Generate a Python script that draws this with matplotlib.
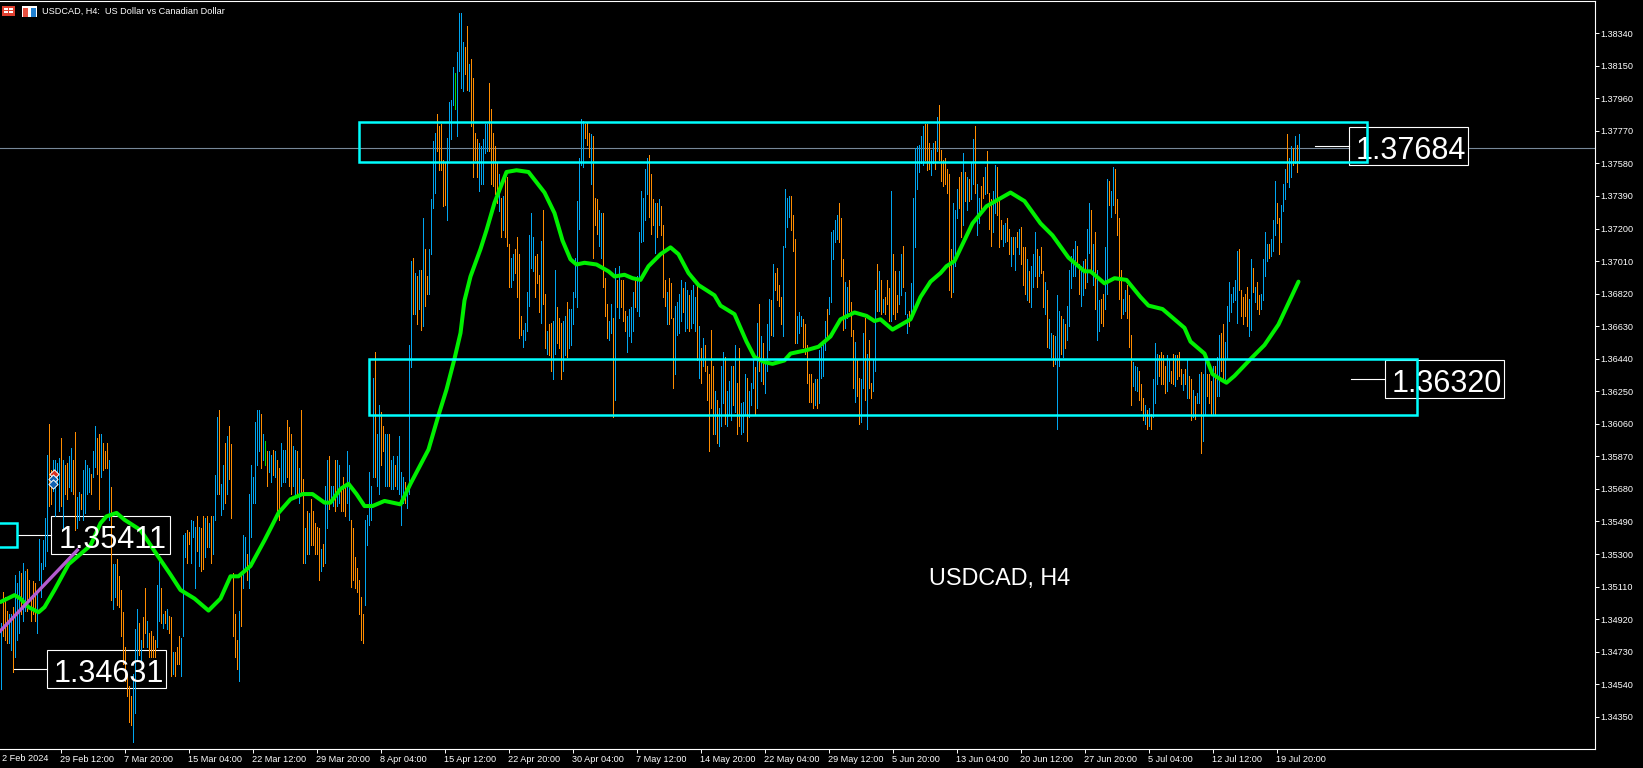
import matplotlib
matplotlib.use('Agg')
import matplotlib.pyplot as plt
from matplotlib.patches import Rectangle

# bar highs/lows in pips above 1.3000, ten bars per row
bar_highs = [
    490,508,505,497,495,495,499,518,513,520,
    519,525,520,521,515,505,514,513,509,539,
    525,538,551,588,606,579,585,585,583,586,
    598,585,582,583,587,592,585,601,563,566,
    565,579,585,582,580,577,590,605,598,600,
    600,595,590,595,585,569,524,524,527,517,
    509,496,476,460,453,447,460,486,498,490,
    480,493,510,491,484,485,482,480,512,526,
    510,495,497,498,494,493,473,473,476,482,
    481,541,542,544,543,550,549,546,552,546,
    545,552,551,552,548,552,552,576,610,614,
    571,582,595,599,605,594,519,495,480,497,
    518,541,540,530,565,582,575,607,614,614,
    612,600,596,590,590,588,591,590,585,580,
    595,591,591,608,604,600,593,591,590,580,
    614,574,545,555,554,562,555,548,546,545,
    533,536,570,585,587,570,570,585,585,582,
    570,575,570,590,582,550,545,528,522,515,
    505,495,550,553,578,570,633,648,600,617,
    613,605,600,600,600,585,587,582,587,599,
    578,575,572,570,652,701,703,694,692,696,
    696,726,708,692,708,737,771,776,787,780,
    781,760,759,773,794,795,814,811,823,846,
    846,829,826,838,816,819,808,776,772,770,
    768,772,781,781,805,790,776,768,758,752,
    738,739,750,750,711,703,705,708,715,705,
    669,661,665,683,716,729,715,704,705,693,
    713,731,682,660,664,665,666,696,674,668,
    665,666,669,677,673,673,683,703,736,761,
    784,783,781,782,776,775,774,738,737,731,
    729,729,691,676,666,676,668,697,690,698,
    690,690,672,669,673,674,683,690,692,718,
    742,738,755,761,763,752,737,735,735,737,
    733,722,690,683,691,688,668,675,677,682,
    690,685,689,684,681,684,687,680,687,663,
    650,656,652,640,635,661,640,625,620,615,
    640,648,645,625,631,640,640,652,630,650,
    618,619,635,633,625,630,643,639,665,676,
    657,653,643,664,679,678,699,694,697,687,
    680,710,743,738,739,739,728,714,669,671,
    669,667,664,652,635,635,630,632,632,649,
    651,654,666,673,680,718,719,725,728,735,
    726,702,689,686,690,677,661,654,643,633,
    632,659,668,647,655,630,643,684,699,695,
    690,679,680,690,685,742,705,695,681,695,
    705,710,683,670,672,688,738,767,768,769,
    774,780,781,781,770,766,770,771,785,792,
    766,760,761,755,752,708,735,731,743,750,
    753,764,753,750,749,758,772,780,746,738,
    745,750,756,765,741,737,742,757,756,737,
    725,722,723,726,720,715,715,715,718,720,
    721,709,709,702,695,698,705,718,708,704,
    709,695,689,684,667,659,658,657,681,672,
    669,667,664,675,696,704,708,713,710,699,
    698,701,702,720,735,731,711,718,696,678,
    679,682,709,749,748,742,756,755,737,726,
    696,679,684,687,681,658,642,640,639,637,
    629,621,617,614,615,612,632,653,647,646,
    648,646,640,646,643,637,647,646,646,648,
    638,635,638,643,634,632,626,622,624,635,
    636,635,643,635,635,631,640,640,645,658,
    659,664,654,675,689,682,686,690,707,708,
    684,680,682,686,679,702,697,686,689,681,
    682,702,718,711,711,714,725,748,735,726,
    734,746,755,775,761,768,767,774,769,775,
]
bar_lows = [
    451,482,480,478,478,474,461,470,480,484,
    495,491,497,497,503,491,495,491,484,515,
    505,521,523,532,558,559,567,552,571,555,
    558,544,565,562,569,567,565,544,545,550,
    556,550,554,565,566,565,575,581,577,556,
    575,579,580,580,550,503,498,505,500,499,
    482,466,456,447,432,430,420,437,468,471,
    468,476,484,476,470,470,470,470,476,491,
    490,487,490,486,484,459,460,459,466,466,
    459,482,528,525,536,525,540,510,532,523,
    520,521,528,534,534,525,530,550,565,565,
    553,556,560,565,574,551,482,470,463,456,
    488,510,520,515,510,540,560,560,582,590,
    580,585,582,570,578,572,576,575,555,550,
    570,572,572,575,570,565,570,565,565,560,
    565,525,525,530,530,535,535,530,530,515,
    520,523,525,545,556,560,558,555,558,560,
    555,555,552,560,550,511,515,510,508,495,
    480,478,500,535,547,550,575,575,570,565,
    582,590,570,570,570,568,568,570,568,565,
    547,560,560,557,565,639,670,670,664,673,
    661,663,675,682,682,705,732,741,765,754,
    754,733,734,725,760,772,792,790,774,812,
    802,800,810,801,800,780,750,760,750,742,
    746,746,764,765,765,746,745,740,735,730,
    715,719,715,710,686,686,690,694,680,656,
    658,651,655,660,675,697,695,680,688,671,
    665,676,650,647,646,637,632,647,653,650,
    632,637,646,645,650,652,664,680,674,720,
    757,756,773,769,762,746,703,722,717,710,
    703,686,669,656,655,659,610,620,674,668,
    674,666,660,648,657,654,660,674,672,669,
    712,713,725,740,727,717,722,706,715,722,
    716,680,675,664,664,668,627,635,658,659,
    666,671,660,662,660,662,665,660,643,633,
    630,640,637,620,590,615,600,600,595,593,
    605,618,606,605,612,608,617,613,600,605,
    600,601,612,596,610,617,627,612,615,637,
    631,629,624,637,649,658,657,684,678,675,
    664,657,709,721,727,719,707,653,653,659,
    663,651,647,630,619,619,615,617,615,618,
    633,634,649,655,670,677,702,712,714,712,
    692,661,662,668,672,657,627,619,622,606,
    607,627,620,603,627,621,625,637,672,672,
    670,671,670,676,666,666,670,667,671,676,
    681,686,670,659,663,670,670,709,743,753,
    758,757,760,754,755,751,758,755,765,760,
    748,745,746,741,684,680,683,698,726,732,
    715,722,736,731,736,737,746,741,716,723,
    730,738,740,741,720,710,718,729,728,709,
    714,710,712,713,705,698,705,696,709,705,
    699,687,682,678,677,674,686,692,686,692,
    694,674,670,651,650,645,640,641,603,640,
    647,645,650,655,663,685,692,692,698,682,
    675,681,685,689,706,695,687,673,655,660,
    665,663,673,682,734,727,734,729,716,679,
    668,670,672,668,651,617,628,626,625,620,
    614,608,606,603,605,603,610,618,629,634,
    629,629,624,625,631,630,629,628,632,634,
    629,626,629,621,621,608,610,609,618,618,
    589,596,612,622,618,612,612,612,622,622,
    637,631,632,644,666,671,677,678,665,684,
    669,664,669,663,657,661,683,677,673,670,
    673,678,692,701,703,704,707,716,723,705,
    712,730,737,747,744,750,757,758,753,758,
]
# b = up (blue), o = down (orange), g = the odd green bar
bar_kinds = ''.join([
    'booobbobbb', 'obbooooobb', 'bbbboobbbb', 'oboobboobb', 'obbbbobboo',
    'booobobboo', 'oooooobbbo', 'booboooobb', 'oboboobooo', 'bbboobbbob',
    'oobobobbbo', 'bbobooooob', 'obbobbbbbb', 'obgobboboo', 'bbbooobbob',
    'oobobooooo', 'bobbobbobb', 'ooobbooooo', 'oobbbbbobb', 'oobbobbobb',
    'bbobbbobob', 'oboobbbboo', 'ooobbbbgbb', 'bbooboooob', 'bbbbooooob',
    'obooobbooo', 'obbbbbbooo', 'booboobboo', 'obbobbbbbb', 'bbooobooob',
    'booobbobob', 'ooobbbbobb', 'bbbbooobob', 'ooobooobbb', 'bobbobbbob',
    'obooooobob', 'bbobbboboo', 'bbbobbbobo', 'bobbbobooo', 'obbbbooobb',
    'boooooobob', 'bbbobbbbbo', 'oobboooboo', 'bboboobbob', 'obooobooob',
    'bobbobbbbb', 'bbooobbobo', 'oooooobbbo', 'obobobbobb', 'oobooobboo',
    'obboobobob', 'ooobobbbob', 'oobobbobbb', 'obobbbbboo', 'bbobbobobb',
    'oobbobbooo', 'obbooobbbo', 'oobobobbbo', 'ooobbooboo', 'oboboobobb',
    'obbooobobb', 'oobbbbbbbo', 'oooobboboo', 'bbbbobbboo', 'bbbobbobob',
])

ma_bars = [0,7,10,14,19,22,27,34,40,45,50,53,58,62,70,78,85,90,97,104,110,115,119,125,132,139,145,151,156,162,165,170,174,178,182,186,192,196,200,205,
           214,219,223,227,230,232,235,240,243,247,251,253,258,264,270,272,277,281,285,288,292,298,304,307,312,316,320,324,330,335,339,344,349,357,360,367,370,
           373,377,382,386,392,395,403,409,415,420,427,433,437,440,446,455,460,465,470,473,477,486,493,499,505,512,520,526,534,542,545,552,557,563,570,
           574,581,592,595,602,606,610,613,617,626,632,639,643,649]
ma_values = [502,506,504,499,496,499,509,524,530,535,548,552,554,550,544,530,518,509,504,497,504,517,517,523,538,554,562,565,565,560,560,568,571,565,558,558,561,560,559,571,
             591,611,626,644,659,678,692,708,719,735,747,753,754,753,744,741,729,713,702,699,700,699,695,692,693,691,690,698,705,709,705,694,687,681,675,670,662,
             654,645,642,641,643,647,649,651,657,667,671,669,666,667,661,667,680,689,694,698,701,723,733,737,741,736,723,716,703,695,695,688,691,690,680,
             675,673,662,654,647,635,632,630,634,645,652,664,674,689]

trend_bars = [-1, 39]
trend_values = [484, 533]

# (first bar, last bar, low, high) in pips above 1.3000
zones = [(179, 683, 759, 782), (184, 708, 611, 644), (-10, 8, 534, 548)]

label_texts = ['1.37684', '1.36320', '1.35411', '1.34631']
label_lefts = [674, 692, 25, 23]
label_stems = [657, 675, 8, 6]

last_price = 1.37668

price_ticks = [1.38340, 1.38150, 1.37960, 1.37770, 1.37580, 1.37390, 1.37200, 1.37010, 1.36820, 1.36630, 1.36440,
               1.36250, 1.36060, 1.35870, 1.35680, 1.35490, 1.35300, 1.35110, 1.34920, 1.34730, 1.34540, 1.34350]
date_labels = ['29 Feb 12:00', '7 Mar 20:00', '15 Mar 04:00', '22 Mar 12:00', '29 Mar 20:00', '8 Apr 04:00', '15 Apr 12:00',
               '22 Apr 20:00', '30 Apr 04:00', '7 May 12:00', '14 May 20:00', '22 May 04:00', '29 May 12:00', '5 Jun 20:00',
               '13 Jun 04:00', '20 Jun 12:00', '27 Jun 20:00', '5 Jul 04:00', '12 Jul 12:00', '19 Jul 20:00']


def price(pips):
    return 1.3 + pips / 1e4


plt.rcParams['font.family'] = 'Liberation Sans'
W, H = 1643, 768
fig = plt.figure(figsize=(W / 100, H / 100), dpi=100, facecolor='black')
ax = fig.add_axes([0, 19 / H, 1594.5 / W, 748 / H], facecolor='black')
ax.set_xlim(-0.25, 797)
ax.set_ylim(1.34162, 1.38528)

ax.axhline(last_price, color='#778899', lw=0.8, zorder=1)

# quote boxes first so the bars still show on top of them
for text, left, stem in zip(label_texts, label_lefts, label_stems):
    level = float(text)
    ax.add_patch(Rectangle((left, level - 0.00111), 59.7, 0.00222, fc='black', ec='white', lw=0.8, zorder=2))
    ax.plot([stem, left], [level, level], color='white', lw=0.8, zorder=2)

colors = {'b': '#00a5f0', 'o': '#ff8c00', 'g': '#00e000'}
bar_x = list(range(len(bar_highs)))
ax.vlines(bar_x, [price(v) for v in bar_lows], [price(v) for v in bar_highs],
          colors=[colors[k] for k in bar_kinds], lw=0.72, antialiased=False, zorder=3)

ax.plot(ma_bars, [price(v) for v in ma_values], color='#00f000', lw=2.9, zorder=4, solid_capstyle='round')
ax.plot(trend_bars, [price(v) for v in trend_values], color='#b45cd0', lw=2.4, zorder=4, solid_capstyle='butt')

ax.scatter([26.5], [price(577)], s=22, marker='D', color='#d83020', edgecolors='white', linewidths=0.7, zorder=5)
ax.scatter([26, 26], [price(574), price(571)], s=22, marker='D', color='#1060b0', edgecolors='white', linewidths=0.7, zorder=5)

for text, left in zip(label_texts, label_lefts):
    ax.text(left + 31, float(text) - 0.0001, text, color='white', fontsize=22, ha='center', va='center_baseline', zorder=6)

for first, last, low, high in zones:
    ax.add_patch(Rectangle((first, price(low)), last - first, price(high) - price(low),
                           fc='none', ec='#00ffff', lw=1.8, zorder=7))

ax.text(0.6268, 0.2285, 'USDCAD, H4', color='white', fontsize=16.8, ha='center', va='center', transform=ax.transAxes)

ax.yaxis.tick_right()
ax.set_yticks(price_ticks)
ax.set_yticklabels(['%.5f' % p for p in price_ticks])
ax.set_xticks([30 + 32 * i for i in range(len(date_labels))])
ax.set_xticklabels(date_labels)
for tick in ax.get_xticklabels():
    tick.set_ha('left')
ax.tick_params(colors='white', labelsize=6.6, length=3, width=0.7, pad=1.5)
ax.tick_params(axis='x', pad=1)
ax.text(0.5, -0.0072, '2 Feb 2024', color='white', fontsize=6.6, ha='left', va='top',
        transform=ax.get_xaxis_transform())
for side in ax.spines:
    ax.spines[side].set_color('white')
    ax.spines[side].set_linewidth(0.8)
ax.spines['left'].set_visible(False)

# little chart icons of the terminal, top left
def icon(x, y, w, h, color):
    fig.add_artist(Rectangle((x / W, 1 - (y + h) / H), w / W, h / H, fc=color, ec='none', transform=fig.transFigure))

icon(2, 6, 13, 10, '#e04030')
icon(4, 8, 4, 2, 'white'); icon(9, 8, 4, 2, 'white')
icon(4, 11, 4, 2, 'white'); icon(9, 11, 4, 2, 'white')
icon(22, 6, 15, 11, 'white')
icon(23, 8, 5, 9, '#e85040')
icon(31, 8, 5, 9, '#2080d0')
fig.text(42.5 / W, 1 - 11.5 / H, 'USDCAD, H4:  US Dollar vs Canadian Dollar', color='white', fontsize=6.6, ha='left', va='center')

fig.savefig('out.png', dpi=100, facecolor='black')
